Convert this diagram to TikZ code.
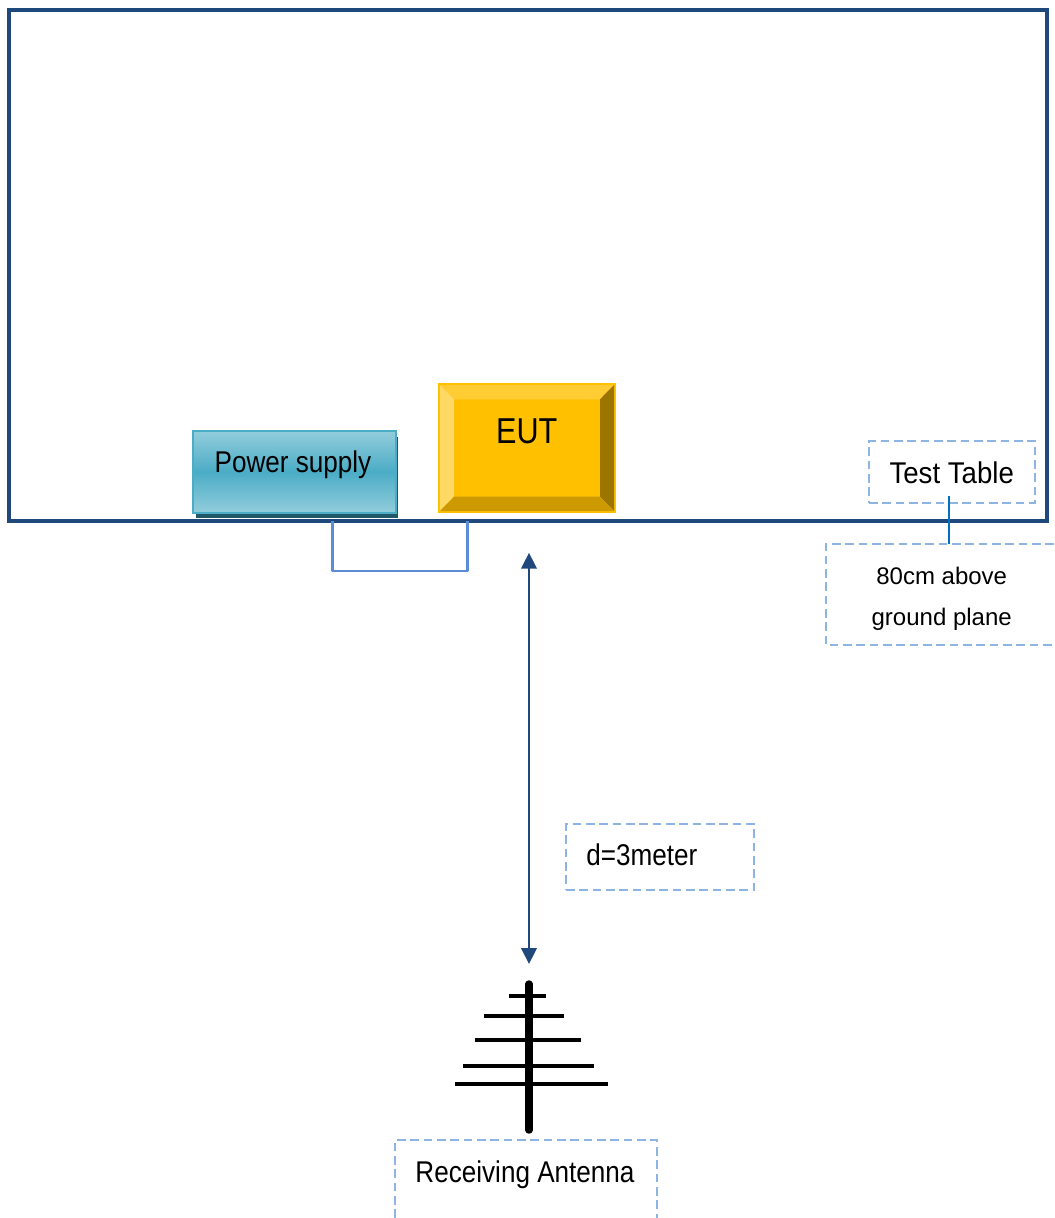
\documentclass[tikz,border=0pt]{standalone}
\usepackage{fontspec}
\setmainfont{Liberation Sans}
\newfontfamily\condfont[FakeStretch=0.87]{Liberation Sans}
\newfontfamily\eutfont[FakeStretch=0.85]{Liberation Sans}
\newfontfamily\ttfont[FakeStretch=0.92]{Liberation Sans}
\usetikzlibrary{arrows.meta}
\definecolor{framecol}{HTML}{1F497D}
\definecolor{dashcol}{HTML}{8DB4E2}
\definecolor{wirecol}{HTML}{5B8DD6}
\definecolor{leadcol}{HTML}{0070C0}
\definecolor{tealedge}{HTML}{4BACC6}
\definecolor{teallight}{HTML}{92CDDC}
\definecolor{tealshadow}{HTML}{215868}
\definecolor{eutmain}{HTML}{FFC000}
\tikzset{
  x=0.75pt,y=-0.75pt,
  framebox/.style={draw=framecol,line width=3pt,fill=none,inner sep=0pt},
  psbox/.style={draw=tealedge,line width=1.5pt,top color=teallight,bottom color=teallight,middle color=tealedge,inner sep=0pt},
  pssh/.style={fill=tealshadow,inner sep=0pt},
  eutbox/.style={draw=eutmain,line width=1.5pt,fill=eutmain,inner sep=0pt},
  dashbox/.style={draw=dashcol,line width=1.5pt,dash pattern=on 6.5pt off 3.5pt},
  wire/.style={draw=wirecol,line width=2pt},
  distarrow/.style={draw=framecol,line width=2.2pt,{Triangle[length=12pt,width=11.5pt]}-{Triangle[length=12pt,width=11.5pt]}},
  leader/.style={draw=leadcol,line width=1.7pt},
  rod/.style={draw=black,line width=5.6pt,line cap=round},
  bar/.style={draw=black,line width=3.2pt},
  condtext/.style={anchor=base,inner sep=0pt,font=\condfont\fontsize{22.5}{27}\selectfont},
  plaintext/.style={anchor=base,inner sep=0pt,font=\fontsize{18}{22}\selectfont},
}
\begin{document}
\begin{tikzpicture}
\useasboundingbox (0,0) rectangle (1054,1218);
% table frame
\node[framebox,minimum width=1038*0.75pt,minimum height=511.5*0.75pt] (table) at (528,265.7) {};
% power supply
\node[pssh,minimum width=201.7*0.75pt,minimum height=81*0.75pt] (psshadow) at (296.85,477.2) {};
\node[psbox,minimum width=203.3*0.75pt,minimum height=81.7*0.75pt] (ps) at (294.35,471.85) {};
\node[condtext] (pslabel) at (293,472.2) {Power supply};
% EUT with bevel
\node[eutbox,minimum width=175.5*0.75pt,minimum height=128*0.75pt] (eut) at (527,448) {};
\coordinate (eo1) at (440,385);
\coordinate (eo2) at (614,385);
\coordinate (eo3) at (614,511);
\coordinate (eo4) at (440,511);
\coordinate (ei1) at (454,399.3);
\coordinate (ei2) at (600,399.3);
\coordinate (ei3) at (600,496.7);
\coordinate (ei4) at (454,496.7);
\fill[color={rgb,255:red,255;green,205;blue,51}] (eo1) -- (eo2) -- (ei2) -- (ei1) -- cycle;
\fill[color={rgb,255:red,255;green,217;blue,102}] (eo1) -- (ei1) -- (ei4) -- (eo4) -- cycle;
\fill[color={rgb,255:red,156;green,117;blue,0}] (eo2) -- (eo3) -- (ei3) -- (ei2) -- cycle;
\fill[color={rgb,255:red,204;green,154;blue,0}] (eo4) -- (ei4) -- (ei3) -- (eo3) -- cycle;
\node[condtext,font=\eutfont\fontsize{27}{32}\selectfont] (eutlabel) at (526.7,443) {EUT};
% cable between power supply and EUT
\coordinate (cabA) at (332.5,521);
\coordinate (cabB) at (467.3,521);
\draw[wire,line join=round] (cabA) -- (cabA |- 0,571) -- (cabB |- 0,571) -- (cabB);
% distance arrow
\coordinate (arrTop) at (529,552.7);
\coordinate (arrBot) at (529,964);
\draw[distarrow] (arrTop) -- (arrBot);
% distance label
\node[dashbox,minimum width=188*0.75pt,minimum height=66*0.75pt] (dbox) at (660,857) {};
\node[condtext,anchor=base west] (dlabel) at (586,865.5) {d=3meter};
% test table label
\node[dashbox,minimum width=166*0.75pt,minimum height=61.7*0.75pt] (ttbox) at (952,471.85) {};
\node[condtext,font=\ttfont\fontsize{22.5}{27}\selectfont] (ttlabel) at (951.7,483) {Test Table};
% 80cm label, box runs off the right edge
\coordinate (ab1) at (1054,544);
\coordinate (ab2) at (825.7,544);
\coordinate (ab3) at (825.7,645);
\coordinate (ab4) at (1054,645);
\draw[dashbox] (ab1) -- (ab2) -- (ab3) -- (ab4);
\node[plaintext] (ablabelA) at (941.7,584.3) {80cm above};
\node[plaintext] (ablabelB) at (941.7,625.3) {ground plane};
% leader
\coordinate (ldA) at (949,495.7);
\coordinate (ldB) at (949,544);
\draw[leader] (ldA) -- (ldB);
% antenna
\coordinate (rodTop) at (529,984);
\coordinate (rodBot) at (529,1130);
\draw[rod] (rodTop) -- (rodBot);
\draw[bar] (509.3,995.7) -- (546,995.7);
\draw[bar] (484,1015.7) -- (564,1015.7);
\draw[bar] (475,1040) -- (581.3,1040);
\draw[bar] (463,1065.7) -- (594,1065.7);
\draw[bar] (455,1084) -- (608,1084);
% receiving antenna label, box runs off the bottom edge
\coordinate (ra1) at (395,1218);
\coordinate (ra2) at (395,1140);
\coordinate (ra3) at (656.7,1140);
\coordinate (ra4) at (656.7,1218);
\draw[dashbox] (ra1) -- (ra2) -- (ra3) -- (ra4);
\node[condtext] (ralabel) at (525,1182.2) {Receiving Antenna};
\end{tikzpicture}
\end{document}
